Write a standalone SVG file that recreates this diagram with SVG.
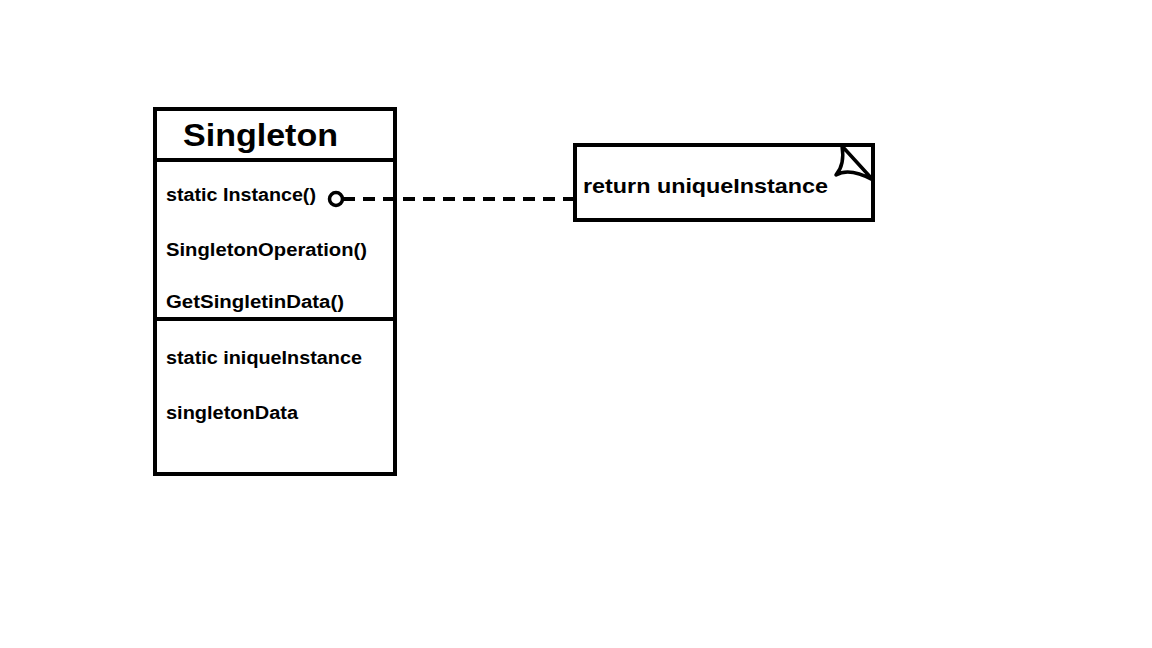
<svg xmlns="http://www.w3.org/2000/svg" width="1152" height="648" viewBox="0 0 1152 648">
<style>
.box{fill:#fff;stroke:#000;stroke-width:4}
.t{font-family:"Liberation Sans",Arial,sans-serif;font-weight:bold;fill:#000}
.m{font-size:18px}
</style>
<rect width="1152" height="648" fill="#fff"/>
<g id="singleton">
<rect class="box" x="155" y="109" width="240" height="365"/>
<line x1="155" y1="160" x2="395" y2="160" stroke="#000" stroke-width="4"/>
<line x1="155" y1="319" x2="395" y2="319" stroke="#000" stroke-width="4"/>
<text class="t" x="183" y="146" font-size="32" textLength="155" lengthAdjust="spacingAndGlyphs">Singleton</text>
<text class="t m" x="166" y="201" textLength="150" lengthAdjust="spacingAndGlyphs">static Instance()</text>
<text class="t m" x="166" y="256" textLength="201" lengthAdjust="spacingAndGlyphs">SingletonOperation()</text>
<text class="t m" x="166" y="308" textLength="178" lengthAdjust="spacingAndGlyphs">GetSingletinData()</text>
<text class="t m" x="166" y="364" textLength="196" lengthAdjust="spacingAndGlyphs">static iniqueInstance</text>
<text class="t m" x="166" y="419" textLength="132" lengthAdjust="spacingAndGlyphs">singletonData</text>
</g>
<g id="note">
<rect class="box" x="575" y="145" width="298" height="75"/>
<path d="M842,146 L873,180 M842,146 C844,158 842,168 836,175 C848,168 862,174 873,180" fill="none" stroke="#000" stroke-width="3.5" stroke-linejoin="round" stroke-linecap="round"/>
<text class="t" x="583" y="193" font-size="21" textLength="245" lengthAdjust="spacingAndGlyphs">return uniqueInstance</text>
</g>
<g id="connectors">
<line x1="343" y1="199" x2="575" y2="199" stroke="#000" stroke-width="4" stroke-dasharray="12 8"/>
<circle cx="336" cy="199" r="6.5" fill="#fff" stroke="#000" stroke-width="3.5"/>
</g>
</svg>
